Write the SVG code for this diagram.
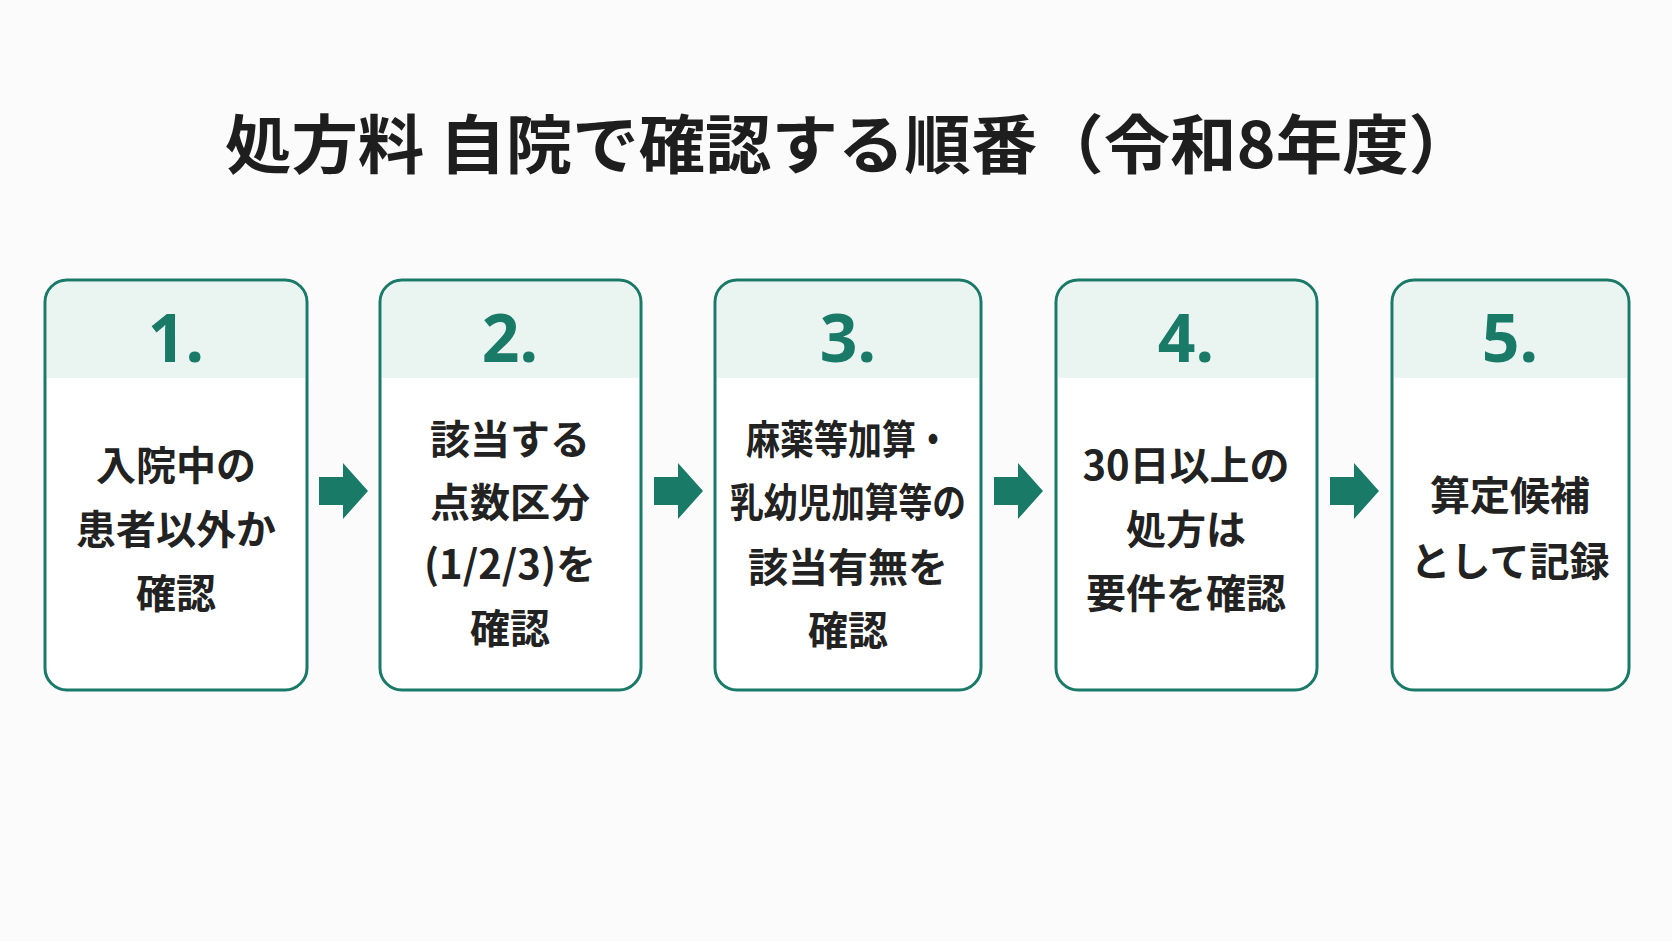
<svg xmlns="http://www.w3.org/2000/svg" width="1672" height="941" viewBox="0 0 1672 941">
<defs><style>
.box{fill:#fff;stroke:#1a7a68;stroke-width:3}
.hd{fill:#eaf5f2}
.num{font-family:"Noto Sans","Noto Sans CJK JP",sans-serif;font-weight:700;font-size:66px;fill:#1a7a68;text-anchor:middle}
.t{font-family:"Noto Sans CJK JP",sans-serif;font-weight:700;font-size:40px;fill:#222;text-anchor:middle}
.ar{fill:#1a7a68}
</style></defs>
<rect width="1672" height="941" fill="#fbfbfb"/>
<text x="850" y="168" font-family="Noto Sans CJK JP,sans-serif" font-weight="700" font-size="64" fill="#1e1e1e" text-anchor="middle" textLength="1250" lengthAdjust="spacingAndGlyphs">処方料 自院で確認する順番（令和8年度）</text>
<g id="n1"><rect class="box" x="45" y="280" width="262" height="410" rx="22"/><path class="hd" d="M47 378V302a20 20 0 0 1 20-20h218a20 20 0 0 1 20 20v76z"/><text class="num" x="176" y="362">1.</text>
<text class="t" x="176" y="480">入院中の</text><text class="t" x="176" y="544">患者以外か</text><text class="t" x="176" y="608">確認</text></g>
<g id="n2"><rect class="box" x="380" y="280" width="261" height="410" rx="22"/><path class="hd" d="M382 378V302a20 20 0 0 1 20-20h217a20 20 0 0 1 20 20v76z"/><text class="num" x="510" y="362">2.</text>
<text class="t" x="510" y="454">該当する</text><text class="t" x="510" y="517">点数区分</text><text class="t" x="510" y="579">(1/2/3)を</text><text class="t" x="510" y="643">確認</text></g>
<g id="n3"><rect class="box" x="715" y="280" width="266" height="410" rx="22"/><path class="hd" d="M717 378V302a20 20 0 0 1 20-20h222a20 20 0 0 1 20 20v76z"/><text class="num" x="848" y="362">3.</text>
<text class="t" x="848" y="454" textLength="204" lengthAdjust="spacingAndGlyphs">麻薬等加算・</text><text class="t" x="848" y="517" textLength="236" lengthAdjust="spacingAndGlyphs">乳幼児加算等の</text><text class="t" x="848" y="582">該当有無を</text><text class="t" x="848" y="645">確認</text></g>
<g id="n4"><rect class="box" x="1056" y="280" width="261" height="410" rx="22"/><path class="hd" d="M1058 378V302a20 20 0 0 1 20-20h217a20 20 0 0 1 20 20v76z"/><text class="num" x="1186" y="362">4.</text>
<text class="t" x="1186" y="480">30日以上の</text><text class="t" x="1186" y="544">処方は</text><text class="t" x="1186" y="608">要件を確認</text></g>
<g id="n5"><rect class="box" x="1392" y="280" width="237" height="410" rx="22"/><path class="hd" d="M1394 378V302a20 20 0 0 1 20-20h193a20 20 0 0 1 20 20v76z"/><text class="num" x="1510" y="362">5.</text>
<text class="t" x="1510" y="510">算定候補</text><text class="t" x="1510" y="576">として記録</text></g>
<g id="connectors">
<path class="ar" d="M319 477h24v-14l25 28-25 28v-14h-24z"/>
<path class="ar" d="M654 477h24v-14l25 28-25 28v-14h-24z"/>
<path class="ar" d="M994 477h24v-14l25 28-25 28v-14h-24z"/>
<path class="ar" d="M1330 477h24v-14l25 28-25 28v-14h-24z"/>
</g>
</svg>
